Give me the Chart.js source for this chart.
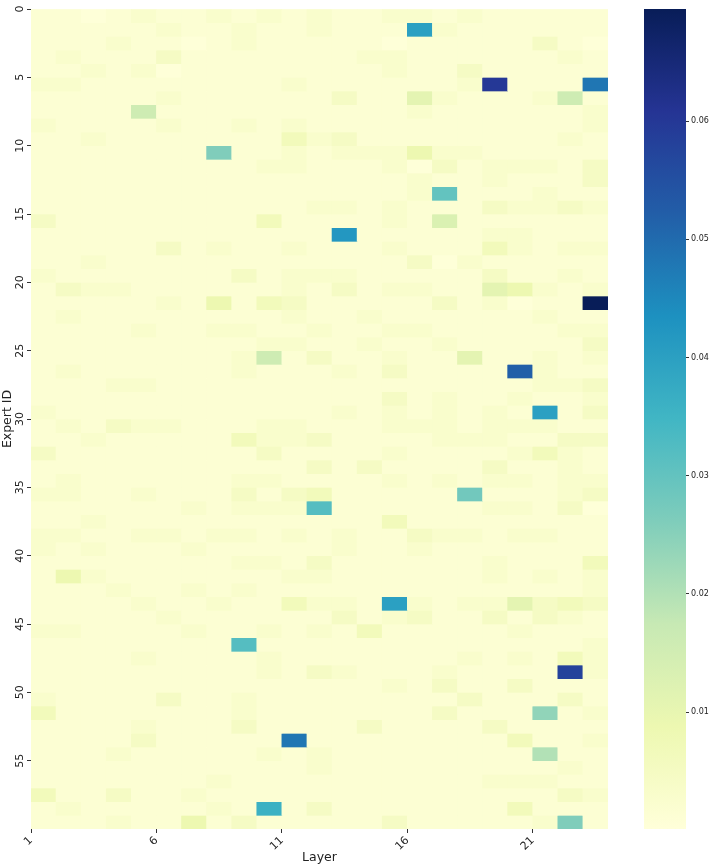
<!DOCTYPE html>
<html>
<head>
<meta charset="utf-8">
<script src="https://cdn.jsdelivr.net/npm/chart.js@4.4.1/dist/chart.umd.min.js"></script>
<style>
  html, body { margin: 0; padding: 0; background: #fff; }
  #wrap { position: relative; width: 713px; height: 867px; }
  #heat { position: absolute; left: 0; top: 0; }
  #cbar { position: absolute; left: 615px; top: 0; }
</style>
</head>
<body>
<div id="wrap">
  <canvas id="heat" width="713" height="867"></canvas>
  <canvas id="cbar" width="98" height="867"></canvas>
</div>
<script>
// Share of tokens routed to each expert, per layer.
// One string per expert (row 0..59), one base-36 level char per layer (1..23).
const routingLevels = [
    '11012112121211221211111',
    '111112112112111k2111111',
    '11121101211111011111310',
    '12111311111112211111121',
    '11212011111111211311111',
    '221111111121111112u111o',
    '11111211111131162111281',
    '11118111111111121111112',
    '21111211212111111111112',
    '11211111114231111111121',
    '1111111d112122252211111',
    '11111111122111203122213',
    '11111111111111121121113',
    '1111111111111112f111211',
    '11111111111221211132232',
    '31111111141111217111111',
    '111111111111l1111122111',
    '11111312112111211142122',
    '11211111111111130211111',
    '21111111312221111131121',
    '13221111112131221165212',
    '1111121514311111312011z',
    '12111111112112111111211',
    '11112112211211221111122',
    '11111111122112112111113',
    '11111111281311211611212',
    '1211111121112131111q211',
    '11122111111111111111223',
    '11111111111111312112112',
    '21111111111121212121k13',
    '12132211122111222122211',
    '11211111422311112221133',
    '31111111131111211112421',
    '11111111111313111131121',
    '12111111221111212122122',
    '22112111313411111e11123',
    '11111121222g11111122130',
    '11211111111111411111111',
    '22112212212121132212211',
    '21211121111121121111111',
    '11111111221311111121114',
    '15211111112211111121212',
    '11121121211111111111112',
    '11112112114221k21226343',
    '11111211111131231131321',
    '22111121121214111112111',
    '11111111g11111111111112',
    '11112111121111111212142',
    '111111111213211121111t2',
    '11111111111111213113111',
    '21111311211111111311131',
    '41111111211111113111c12',
    '11112111311113111131111',
    '1111311111o111111114112',
    '11121111121211111111a11',
    '11111111111211111111121',
    '11111112111111111122211',
    '41131121111111111111132',
    '121111121i1311111114111',
    '111211513111113111112d1'
];

// value for each level char '0'..'z'
const levelValues = [
    0.0004, 0.0015, 0.0030, 0.0047, 0.0066, 0.0087, 0.0108, 0.0130, 0.0158,
    0.0180, 0.0200, 0.0220, 0.0240, 0.0260, 0.0280, 0.0300, 0.0320, 0.0340,
    0.0360, 0.0380, 0.0400, 0.0420, 0.0440, 0.0460, 0.0480, 0.0500, 0.0520,
    0.0540, 0.0560, 0.0580, 0.0600, 0.0620, 0.0640, 0.0660, 0.0680, 0.0695
];

const layerTickPos = [0, 5, 10, 15, 20];
const layerTickLabels = ['1', '6', '11', '16', '21'];
const expertTicks = [0, 5, 10, 15, 20, 25, 30, 35, 40, 45, 50, 55];
const cbarTicks = [0.01, 0.02, 0.03, 0.04, 0.05, 0.06];
const cbarTickLabels = ['0.01', '0.02', '0.03', '0.04', '0.05', '0.06'];
const vmin = 0.0001;
const vmax = 0.0695;

// matplotlib YlGnBu
const ylgnbu = ['#ffffd9', '#edf8b1', '#c7e9b4', '#7fcdbb', '#41b6c4',
                '#1d91c0', '#225ea8', '#253494', '#081d58'];
const ylgnbuRgb = ylgnbu.map(h => [1, 3, 5].map(i => parseInt(h.substr(i, 2), 16)));

function cmap(v) {
    let t = (v - vmin) / (vmax - vmin);
    t = Math.max(0, Math.min(1, t));
    const s = t * (ylgnbu.length - 1);
    const i = Math.min(ylgnbu.length - 2, Math.floor(s));
    const f = s - i;
    const a = ylgnbuRgb[i], b = ylgnbuRgb[i + 1];
    const c = a.map((x, k) => Math.round(x + (b[k] - x) * f));
    return `rgb(${c[0]},${c[1]},${c[2]})`;
}

const textColor = '#222';
const tickColor = '#333';
const fontFamily = "'DejaVu Sans', sans-serif";

// one stacked dataset per expert row, one unit-high bar per layer
const datasets = routingLevels.map((row, r) => {
    const vals = row.split('').map(ch => levelValues[parseInt(ch, 36)]);
    return {
        label: 'Expert ' + r,
        data: vals.map((v, c) => ({ x: c + 0.5, y: 1 })),
        backgroundColor: vals.map(cmap),
        borderWidth: 0,
        barPercentage: 1,
        categoryPercentage: 1
    };
});

new Chart(document.getElementById('heat'), {
    type: 'bar',
    data: { datasets: datasets },
    options: {
        responsive: false,
        animation: false,
        layout: { padding: { top: 9, right: 105, left: 0, bottom: 0 } },
        plugins: { legend: { display: false }, tooltip: { enabled: false } },
        scales: {
            x: {
                type: 'linear',
                stacked: true,
                offset: false,
                min: 0,
                max: 23,
                afterBuildTicks: s => { s.ticks = layerTickPos.map(v => ({ value: v })); },
                afterFit: s => { s.height = 38; },
                ticks: {
                    callback: (v, i) => layerTickLabels[i],
                    minRotation: 45,
                    maxRotation: 45,
                    padding: 1,
                    color: textColor,
                    font: { family: fontFamily, size: 11 }
                },
                grid: { display: true, offset: false, drawOnChartArea: false, drawTicks: true, tickLength: 4, tickColor: tickColor },
                border: { display: false },
                title: {
                    display: true,
                    text: 'Layer',
                    color: textColor,
                    padding: { top: 0, bottom: 2 },
                    font: { family: fontFamily, size: 12.5 }
                }
            },
            y: {
                type: 'linear',
                stacked: true,
                reverse: true,
                min: 0,
                max: 60,
                afterBuildTicks: s => { s.ticks = expertTicks.map(v => ({ value: v })); },
                afterFit: s => { s.width = 31; },
                ticks: {
                    callback: (v, i) => String(expertTicks[i]),
                    minRotation: 90,
                    maxRotation: 90,
                    crossAlign: 'center',
                    padding: 0,
                    color: textColor,
                    font: { family: fontFamily, size: 11 }
                },
                grid: { display: true, offset: false, drawOnChartArea: false, drawTicks: true, tickLength: 4, tickColor: tickColor },
                border: { display: false },
                title: {
                    display: true,
                    text: 'Expert ID',
                    color: textColor,
                    padding: 0,
                    font: { family: fontFamily, size: 12.5 }
                }
            }
        }
    }
});

// colour bar: one floating bar filled with the colormap
new Chart(document.getElementById('cbar'), {
    type: 'bar',
    data: {
        labels: ['scale'],
        datasets: [{
            data: [[vmin, vmax]],
            borderWidth: 0,
            barPercentage: 1,
            categoryPercentage: 1,
            backgroundColor: ctx => {
                const area = ctx.chart.chartArea;
                if (!area) return ylgnbu[0];
                const g = ctx.chart.ctx.createLinearGradient(0, area.bottom, 0, area.top);
                ylgnbu.forEach((c, i) => g.addColorStop(i / (ylgnbu.length - 1), c));
                return g;
            }
        }]
    },
    options: {
        responsive: false,
        animation: false,
        layout: { padding: { left: 29, top: 9, bottom: 38, right: 0 } },
        plugins: { legend: { display: false }, tooltip: { enabled: false } },
        scales: {
            x: { display: false },
            y: {
                position: 'right',
                min: vmin,
                max: vmax,
                afterBuildTicks: s => { s.ticks = cbarTicks.map(v => ({ value: v })); },
                afterFit: s => { s.width = 27; },
                ticks: {
                    callback: (v, i) => cbarTickLabels[i],
                    padding: 2,
                    color: textColor,
                    font: { family: fontFamily, size: 8 }
                },
                grid: { display: true, drawOnChartArea: false, drawTicks: true, tickLength: 3, tickColor: tickColor },
                border: { display: false }
            }
        }
    }
});
</script>
</body>
</html>
